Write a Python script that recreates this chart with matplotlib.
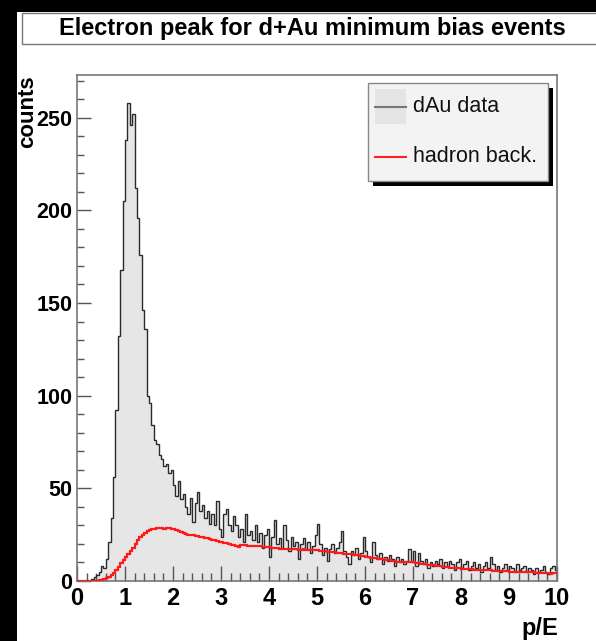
import numpy as np
import matplotlib
matplotlib.use("Agg")
import matplotlib.pyplot as plt
from matplotlib.patches import Rectangle
from matplotlib.lines import Line2D
from matplotlib.ticker import MultipleLocator

W, H = 596, 641

# ---- data (bin width 0.05 over 0..10) ----
bin_edges_lo = 0.0
bin_edges_hi = 10.0

data_counts = [
    0, 0, 0, 0, 0, 0, 1, 2, 3, 5,
    8, 7, 12, 21, 34, 56, 92, 132, 168, 205,
    238, 258, 246, 252, 212, 196, 176, 146, 136, 100,
    96, 84, 76, 74, 68, 66, 62, 63, 58, 60,
    52, 46, 54, 44, 47, 40, 36, 45, 32, 42,
    48, 38, 41, 34, 38, 31, 36, 30, 43, 28,
    24, 36, 39, 30, 27, 35, 30, 24, 28, 21,
    36, 25, 27, 22, 30, 21, 26, 18, 25, 28,
    13, 24, 33, 20, 23, 18, 30, 22, 16, 24,
    19, 21, 12, 20, 23, 17, 21, 15, 19, 25,
    31, 20, 14, 18, 11, 17, 20, 15, 18, 21,
    27, 16, 13, 9, 16, 14, 18, 12, 15, 24,
    16, 13, 10, 21, 14, 12, 15, 9, 13, 11,
    14, 12, 8, 13, 10, 12, 9, 11, 17, 10,
    16, 8, 15, 11, 9, 12, 7, 10, 8, 11,
    9, 12, 7, 10, 8, 11, 9, 6, 10, 12,
    7, 9, 11, 6, 8, 10, 7, 9, 5, 8,
    10, 7, 13, 9, 6, 8, 5, 7, 9, 6,
    8, 7, 5, 9, 6, 7, 8, 5, 7, 6,
    4, 7, 5, 6, 8, 5, 4, 7, 8, 6,
]

hadron_back = [
    0, 0, 0, 0, 0, 0, 0, 0, 0, 0.3,
    0.6, 1.0, 1.5, 2.2, 3.2, 4.5, 6.0, 7.8, 9.5, 11.5,
    13.0, 14.5, 16.0, 18.0, 20.0, 22.0, 23.5, 25.0, 26.0, 27.0,
    27.5, 28.0, 28.0, 28.5, 28.5, 28.5, 28.0, 28.5, 28.5, 28.0,
    28.0, 27.5, 27.0, 26.5, 26.0, 25.5, 25.0, 25.0, 25.0, 24.5,
    24.5, 24.0, 23.5, 23.0, 23.0, 22.5, 22.0, 22.0, 21.5, 21.0,
    21.0, 20.5, 20.5, 20.0, 19.5, 19.5, 19.0, 18.5, 19.5, 19.5,
    19.5, 19.0, 19.0, 19.0, 19.0, 19.0, 19.0, 18.5, 18.5, 18.5,
    18.5, 18.0, 18.0, 18.0, 17.5, 17.5, 17.5, 17.0, 17.0, 17.5,
    17.0, 17.0, 16.5, 16.5, 17.0, 16.5, 16.5, 16.5, 16.5, 16.5,
    16.5, 16.0, 16.0, 16.0, 15.5, 15.5, 15.5, 15.5, 15.0, 15.0,
    15.0, 14.5, 14.5, 14.5, 14.5, 14.0, 14.0, 14.0, 13.5, 13.5,
    13.0, 13.0, 12.5, 12.5, 12.5, 12.0, 12.0, 12.0, 11.5, 11.5,
    11.5, 11.0, 11.0, 10.5, 10.5, 10.5, 10.0, 10.0, 10.0, 10.0,
    10.0, 9.5, 9.5, 9.0, 9.0, 9.0, 8.5, 8.5, 8.5, 8.0,
    8.0, 8.0, 7.5, 7.5, 7.5, 7.0, 7.0, 7.0, 7.0, 6.8,
    6.7, 6.6, 6.5, 6.4, 6.3, 6.2, 6.1, 6.0, 6.0, 5.9,
    5.9, 5.8, 5.7, 5.6, 5.5, 5.4, 5.4, 5.3, 5.2, 5.2,
    5.1, 5.0, 5.0, 4.9, 4.9, 4.8, 4.7, 4.7, 4.6, 4.6,
    4.6, 4.5, 4.5, 4.4, 4.4, 4.3, 4.1, 3.9, 4.2, 4.2,
]

x_ticks = [0, 1, 2, 3, 4, 5, 6, 7, 8, 9, 10]
y_ticks = [0, 50, 100, 150, 200, 250]

title = "Electron peak for d+Au minimum bias events"
xlabel = "p/E"
ylabel = "counts"
legend_labels = ["dAu data", "hadron back."]

plt.rcParams['font.family'] = ['Liberation Sans', 'DejaVu Sans']

fig = plt.figure(figsize=(W / 100, H / 100), dpi=100)
fig.patch.set_facecolor('black')

def fx(px):
    return px / W

def fy(py):
    return 1 - py / H

# white canvas
fig.add_artist(Rectangle((fx(17), 0), 1 - fx(17), fy(12), transform=fig.transFigure,
                         facecolor='white', edgecolor='none', zorder=0))

# title box
fig.add_artist(Rectangle((fx(22), fy(44)), fx(600) - fx(22), fy(13) - fy(44),
                         transform=fig.transFigure, facecolor='white',
                         edgecolor='#777777', lw=1.0, zorder=1))
fig.text(fx(312), fy(29), title, ha='center', va='center', fontsize=17,
         fontweight='bold', color='black', zorder=2)

ax = fig.add_axes([fx(77), fy(581), fx(557) - fx(77), fy(75) - fy(581)])
ax.set_facecolor('white')

n = len(data_counts)
edges = np.linspace(bin_edges_lo, bin_edges_hi, n + 1)
ax.stairs(data_counts, edges, fill=True, facecolor='#e6e6e6', edgecolor='none', zorder=1)
ax.stairs(data_counts, edges, color='#2a2a2a', lw=1.0, zorder=2)
ax.stairs(hadron_back, edges, color='#ff1a1a', lw=1.6, zorder=3, baseline=None)

ax.set_xlim(0, 10)
ax.set_ylim(0, 273)

ax.set_xticks(x_ticks)
ax.set_xticklabels([str(t) for t in x_ticks])
ax.set_yticks(y_ticks)
ax.set_yticklabels([str(t) for t in y_ticks])
ax.xaxis.set_minor_locator(MultipleLocator(0.2))
ax.yaxis.set_minor_locator(MultipleLocator(10))

for lab in ax.get_xticklabels():
    lab.set_fontweight('bold')
for lab in ax.get_yticklabels():
    lab.set_fontweight('bold')

ax.tick_params(axis='x', which='major', direction='in', length=11, width=1.0,
               color='#555555', labelsize=17, pad=4, top=False)
ax.tick_params(axis='x', which='minor', direction='in', length=6, width=1.0,
               color='#555555', top=False)
ax.tick_params(axis='y', which='major', direction='in', length=10, width=1.0,
               color='#555555', labelsize=15.5, pad=3.5, right=False)
ax.tick_params(axis='y', which='minor', direction='in', length=5, width=1.0,
               color='#555555', right=False)

for s in ax.spines.values():
    s.set_color('#777777')
    s.set_linewidth(1.2)

# axis titles
fig.text(fx(558), fy(629), xlabel, ha='right', va='center', fontsize=17,
         fontweight='bold')
fig.text(fx(28), fy(75), ylabel, ha='center', va='top', rotation=90,
         fontsize=16, fontweight='bold')

# legend (ROOT-style with shadow)
fig.add_artist(Rectangle((fx(373), fy(186)), fx(553) - fx(373), fy(88) - fy(186),
                         transform=fig.transFigure, facecolor='black',
                         edgecolor='none', zorder=5))
fig.add_artist(Rectangle((fx(368), fy(181)), fx(548) - fx(368), fy(83) - fy(181),
                         transform=fig.transFigure, facecolor='#f3f3f3',
                         edgecolor='#888888', lw=1.0, zorder=6))
fig.add_artist(Rectangle((fx(375), fy(124)), fx(406) - fx(375), fy(89) - fy(124),
                         transform=fig.transFigure, facecolor='#e4e4e4',
                         edgecolor='none', zorder=7))
fig.add_artist(Line2D([fx(375), fx(406)], [fy(107), fy(107)], transform=fig.transFigure,
                      color='#777777', lw=1.5, zorder=8))
fig.add_artist(Line2D([fx(375), fx(406)], [fy(157), fy(157)], transform=fig.transFigure,
                      color='#ff2020', lw=1.5, zorder=8))
fig.text(fx(413), fy(106), legend_labels[0], ha='left', va='center', fontsize=15.5,
         color='#111111', zorder=9)
fig.text(fx(413), fy(156), legend_labels[1], ha='left', va='center', fontsize=15.5,
         color='#111111', zorder=9)

fig.savefig('out.png', dpi=100, facecolor=fig.get_facecolor())
